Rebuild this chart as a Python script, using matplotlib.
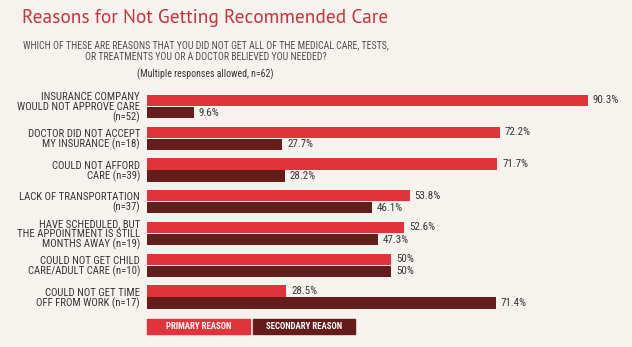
import matplotlib
matplotlib.use("Agg")
import matplotlib.pyplot as plt
from matplotlib.patches import Rectangle
import numpy as np

categories = [
    "INSURANCE COMPANY\nWOULD NOT APPROVE CARE\n(n=52)",
    "DOCTOR DID NOT ACCEPT\nMY INSURANCE (n=18)",
    "COULD NOT AFFORD\nCARE (n=39)",
    "LACK OF TRANSPORTATION\n(n=37)",
    "HAVE SCHEDULED, BUT\nTHE APPOINTMENT IS STILL\nMONTHS AWAY (n=19)",
    "COULD NOT GET CHILD\nCARE/ADULT CARE (n=10)",
    "COULD NOT GET TIME\nOFF FROM WORK (n=17)",
]
primary = [90.3, 72.2, 71.7, 53.8, 52.6, 50, 28.5]
secondary = [9.6, 27.7, 28.2, 46.1, 47.3, 50, 71.4]
primary_labels = ["90.3%", "72.2%", "71.7%", "53.8%", "52.6%", "50%", "28.5%"]
secondary_labels = ["9.6%", "27.7%", "28.2%", "46.1%", "47.3%", "50%", "71.4%"]
legend_names = ["PRIMARY REASON", "SECONDARY REASON"]

RED = "#e2323a"
DARK = "#651d1b"
TXT = "#3b3535"
BG = "#f6f3ef"
NARROW = ["Roboto Condensed", "PT Sans Narrow", "Lato", "DejaVu Sans"]
TITLEF = ["PT Sans", "Lato", "DejaVu Sans"]

W, H = 632, 347
fig = plt.figure(figsize=(W / 100, H / 100), dpi=100, facecolor=BG)
renderer = fig.canvas.get_renderer()


def fx(px):
    return px / W


def fy(py):
    return 1 - py / H


def fit_size(text, family, target_px, base=10.0, weight="normal"):
    t = fig.text(0, 0, text, fontsize=base, family=family, fontweight=weight)
    w = t.get_window_extent(renderer).width
    t.remove()
    return base * target_px / w


# axes: x from 147 px to 632 px, y from 90.6 to 312.9 px
px_per_pct = 4.884
ax_left, ax_right = 147, 632
ax_top, ax_bot = 90.6, 312.9
ax = fig.add_axes([fx(ax_left), fy(ax_bot), fx(ax_right - ax_left), (ax_bot - ax_top) / H])
ax.set_facecolor("none")
ax.set_xlim(0, (ax_right - ax_left) / px_per_pct)
ax.set_ylim(len(categories) - 0.5, -0.5)

y = np.arange(len(categories))
h = 0.35
off = 0.19
ax.barh(y - off, primary, height=h, color=RED)
ax.barh(y + off, secondary, height=h, color=DARK)

val_fs = fit_size("90.3%", NARROW, 26)
for yi, v, lab in zip(y, primary, primary_labels):
    ax.text(v + 1.0, yi - off, lab, va="center", ha="left", fontsize=val_fs,
            color=TXT, family=NARROW)
for yi, v, lab in zip(y, secondary, secondary_labels):
    ax.text(v + 1.0, yi + off, lab, va="center", ha="left", fontsize=val_fs,
            color=TXT, family=NARROW)

lab_fs = fit_size("WOULD NOT APPROVE CARE", NARROW, 123)
ax.set_yticks(y)
ax.set_yticklabels(categories, fontsize=lab_fs, color=TXT, family=NARROW,
                   linespacing=0.95, ha="right")
ax.tick_params(axis="y", length=0, pad=5)
ax.set_xticks([])
for s in ax.spines.values():
    s.set_visible(False)

# title and subtitles
title = "Reasons for Not Getting Recommended Care"
fig.text(fx(22), fy(18), title, fontsize=fit_size(title, TITLEF, 363),
         color="#c4343a", family=TITLEF, va="center", ha="left")
sub1 = "WHICH OF THESE ARE REASONS THAT YOU DID NOT GET ALL OF THE MEDICAL CARE, TESTS,"
sub_fs = fit_size(sub1, NARROW, 369)
fig.text(fx(205.5), fy(45), sub1,
         fontsize=sub_fs, color="#555050", family=NARROW, ha="center", va="center")
fig.text(fx(205.5), fy(57), "OR TREATMENTS YOU OR A DOCTOR BELIEVED YOU NEEDED?",
         fontsize=sub_fs, color="#555050", family=NARROW, ha="center", va="center")
fig.text(fx(205.5), fy(74), "(Multiple responses allowed, n=62)",
         fontsize=sub_fs, color="#3b3535", family=NARROW, ha="center", va="center")

# legend boxes
leg_fs = fit_size(legend_names[0], NARROW, 65, weight="bold")
boxes = [(147, 250, RED), (253, 355, DARK)]
for (x0, x1, c), name in zip(boxes, legend_names):
    fig.patches.append(Rectangle((fx(x0), fy(334)), fx(x1 - x0), (334 - 319) / H,
                                 transform=fig.transFigure, color=c))
    fig.text(fx((x0 + x1) / 2), fy(326.5), name, fontsize=leg_fs, color="white",
             family=NARROW, fontweight="bold", ha="center", va="center")

fig.savefig("out.png", dpi=100, facecolor=BG)
